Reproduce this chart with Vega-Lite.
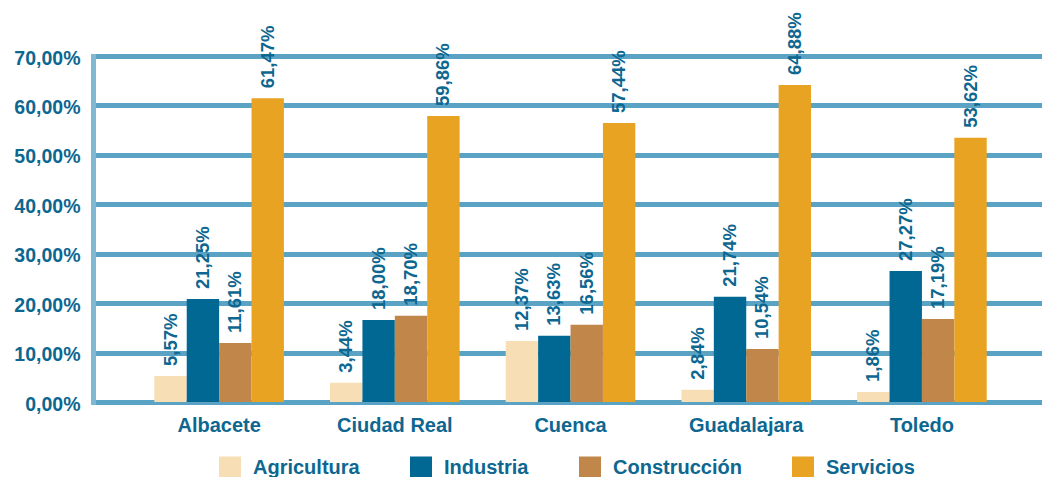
{
  "$schema": "https://vega.github.io/schema/vega-lite/v6.json",
  "width": 949,
  "height": 346,
  "autosize": {"type": "none"},
  "padding": {"left": 93, "top": 56, "right": 0, "bottom": 75},
  "background": "white",
  "data": {
    "values": [
      {"provincia": "Albacete", "sector": "Agricultura", "valor": 5.26, "etiqueta": "5,57%"},
      {"provincia": "Albacete", "sector": "Industria", "valor": 20.84, "etiqueta": "21,25%"},
      {"provincia": "Albacete", "sector": "Construcción", "valor": 11.94, "etiqueta": "11,61%"},
      {"provincia": "Albacete", "sector": "Servicios", "valor": 61.44, "etiqueta": "61,47%"},
      {"provincia": "Ciudad Real", "sector": "Agricultura", "valor": 3.91, "etiqueta": "3,44%"},
      {"provincia": "Ciudad Real", "sector": "Industria", "valor": 16.59, "etiqueta": "18,00%"},
      {"provincia": "Ciudad Real", "sector": "Construcción", "valor": 17.46, "etiqueta": "18,70%"},
      {"provincia": "Ciudad Real", "sector": "Servicios", "valor": 57.86, "etiqueta": "59,86%"},
      {"provincia": "Cuenca", "sector": "Agricultura", "valor": 12.34, "etiqueta": "12,37%"},
      {"provincia": "Cuenca", "sector": "Industria", "valor": 13.41, "etiqueta": "13,63%"},
      {"provincia": "Cuenca", "sector": "Construcción", "valor": 15.64, "etiqueta": "16,56%"},
      {"provincia": "Cuenca", "sector": "Servicios", "valor": 56.44, "etiqueta": "57,44%"},
      {"provincia": "Guadalajara", "sector": "Agricultura", "valor": 2.49, "etiqueta": "2,84%"},
      {"provincia": "Guadalajara", "sector": "Industria", "valor": 21.3, "etiqueta": "21,74%"},
      {"provincia": "Guadalajara", "sector": "Construcción", "valor": 10.72, "etiqueta": "10,54%"},
      {"provincia": "Guadalajara", "sector": "Servicios", "valor": 64.13, "etiqueta": "64,88%"},
      {"provincia": "Toledo", "sector": "Agricultura", "valor": 2.02, "etiqueta": "1,86%"},
      {"provincia": "Toledo", "sector": "Industria", "valor": 26.5, "etiqueta": "27,27%"},
      {"provincia": "Toledo", "sector": "Construcción", "valor": 16.79, "etiqueta": "17,19%"},
      {"provincia": "Toledo", "sector": "Servicios", "valor": 53.47, "etiqueta": "53,62%"}
    ]
  },
  "encoding": {
    "x": {
      "field": "provincia",
      "type": "nominal",
      "sort": ["Albacete", "Ciudad Real", "Cuenca", "Guadalajara", "Toledo"],
      "scale": {"paddingInner": 0.2624, "paddingOuter": 0.3318, "align": 0.526},
      "axis": {
        "title": null,
        "domain": false,
        "ticks": false,
        "tickSize": 0,
        "grid": false,
        "labelAngle": 0,
        "labelFont": "Liberation Sans",
        "labelFontWeight": "bold",
        "labelFontSize": 20,
        "labelColor": "#0d6790",
        "labelBaseline": "alphabetic",
        "labelPadding": 29
      }
    },
    "xOffset": {
      "field": "sector",
      "type": "nominal",
      "sort": ["Agricultura", "Industria", "Construcción", "Servicios"],
      "scale": {"paddingInner": 0, "paddingOuter": 0}
    },
    "y": {
      "field": "valor",
      "type": "quantitative",
      "scale": {"domain": [0, 70], "nice": false, "zero": true},
      "axis": {
        "title": null,
        "values": [0, 10, 20, 30, 40, 50, 60, 70],
        "labelExpr": "replace(format(datum.value, '.2f'), '.', ',') + '%'",
        "domain": true,
        "domainColor": "#80b7d3",
        "domainWidth": 5,
        "domainCap": "square",
        "ticks": false,
        "tickSize": 0,
        "grid": true,
        "gridColor": "#5ba3c5",
        "gridWidth": 5,
        "gridOpacity": 1,
        "labelFont": "Liberation Sans",
        "labelFontWeight": "bold",
        "labelFontSize": 19.5,
        "labelColor": "#0d6790",
        "labelPadding": 13,
        "labelOffset": 2
      }
    }
  },
  "layer": [
    {
      "mark": {"type": "bar"},
      "encoding": {
        "color": {
          "field": "sector",
          "type": "nominal",
          "scale": {
            "domain": ["Agricultura", "Industria", "Construcción", "Servicios"],
            "range": ["#f8deb5", "#006892", "#c0864a", "#e9a323"]
          },
          "legend": {
            "title": null,
            "orient": "none",
            "direction": "horizontal",
            "legendX": 126,
            "legendY": 400.5,
            "padding": 0,
            "symbolType": "square",
            "symbolSize": 484,
            "symbolStrokeWidth": 0,
            "labelFont": "Liberation Sans",
            "labelFontWeight": "bold",
            "labelFontSize": 20,
            "labelColor": "#0d6790",
            "labelOffset": 12,
            "labelLimit": 300,
            "columnPadding": 50
          }
        }
      }
    },
    {
      "mark": {
        "type": "text",
        "angle": 270,
        "align": "left",
        "baseline": "middle",
        "dx": 10,
        "font": "Liberation Sans",
        "fontWeight": "bold",
        "fontSize": 18.5,
        "color": "#0d6790"
      },
      "encoding": {
        "text": {"field": "etiqueta", "type": "nominal"}
      }
    }
  ],
  "config": {
    "view": {"stroke": null}
  }
}
